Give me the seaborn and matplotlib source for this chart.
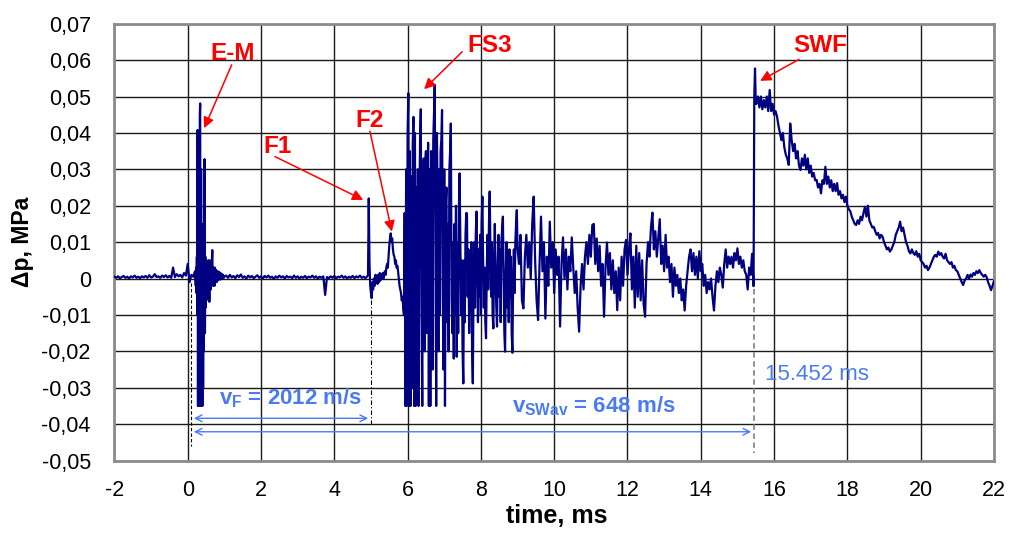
import numpy as np
import pandas as pd
import matplotlib
matplotlib.use("Agg")
import matplotlib.pyplot as plt
import seaborn as sns

# ---------------- data ----------------
# pressure trace, stored as segments: (t_start, t_end, values)
pre_vals = [0.0005, 0.0002, 0.0006, 0.0001, 0.0004, 0.0007, 0.0002, 0.0005, 0.0000, 0.0006,
            0.0003, 0.0008, 0.0002, 0.0005, 0.0001, 0.0006, 0.0003, 0.0007, 0.0002, 0.0009,
            0.0003, 0.0005, 0.0012, 0.0004, 0.0006, 0.0002, 0.0008, 0.0004, 0.0009, 0.0003,
            0.0007, 0.0002, 0.0030, 0.0004, 0.0012, 0.0006, 0.0010, 0.0003, 0.0015, 0.0008,
            0.0040, -0.0010, 0.0010, 0.0005, 0.0020]
em_vals = [-0.002, 0.003, -0.004, 0.006, -0.010, 0.0408, -0.035, 0.040, -0.035, 0.020,
           -0.035, 0.045, 0.0481, -0.035, 0.030, 0.0298, -0.035, 0.015, -0.035, 0.010,
           -0.030, 0.005, -0.020, 0.020, 0.0328, -0.015, 0.006, -0.008, 0.005, -0.004,
           0.003, -0.005, 0.004, -0.003, 0.005, -0.006, 0.002, -0.0064, 0.005, -0.002,
           0.003, -0.003, 0.004, -0.001, 0.005, 0.0078, 0.001, -0.002, 0.003, -0.001,
           0.002, -0.002, 0.003, -0.001, 0.0025, -0.0005, 0.002, -0.001, 0.0015, 0.000,
           0.002, -0.0005, 0.0015, 0.0003, 0.0018, 0.0002, 0.0012, -0.0003, 0.0015, 0.0004,
           0.001, 0.0002, 0.0012, 0.0003, 0.0009, 0.0001, 0.0008, 0.0003, 0.0006]
quiet_vals = [0.0008, 0.0002, 0.0010, 0.0003, 0.0007, 0.0001, 0.0009, 0.0004, 0.0011, 0.0002,
              0.0006, 0.0000, 0.0008, 0.0003, 0.0007, 0.0001, 0.0005, 0.0009, 0.0002, 0.0006,
              0.0000, 0.0007, 0.0003, 0.0008, 0.0002, 0.0005, -0.0001, 0.0006, 0.0002, 0.0008,
              0.0003, 0.0006, 0.0000, 0.0007, 0.0003, 0.0005, 0.0001, 0.0008, 0.0002, 0.0006,
              0.0000, 0.0005, 0.0002, 0.0007, 0.0001, 0.0005, 0.0003, 0.0008, 0.0002, 0.0006,
              0.0000, 0.0005, 0.0002, 0.0006, -0.0045, 0.0004, 0.0001, 0.0006, 0.0002, 0.0007,
              0.0001, 0.0005, 0.0003, 0.0008, 0.0002, 0.0006, 0.0000, 0.0005, 0.0002, 0.0007,
              0.0001, 0.0006, 0.0003, 0.0008, 0.0002, 0.0005, 0.0001, 0.0006]
f_vals = [0.001, 0.022, 0.004, -0.002, -0.004, -0.0054, -0.001, -0.003, 0.000, -0.002,
          0.001, -0.001, 0.0008, -0.0015, 0.001, -0.001, 0.0015, -0.0005, 0.001, 0.000,
          0.0015, 0.000, 0.0012, 0.002, 0.001, 0.003, 0.004, 0.003, 0.006, 0.009,
          0.011, 0.0124, 0.010, 0.011, 0.008, 0.0065, 0.006, 0.004, 0.005, 0.003,
          0.0035, 0.002, 0.000, -0.002, -0.003, -0.004, -0.006, -0.005, -0.008]
fs3_vals = [-0.010, 0.018, -0.035, 0.030, -0.035, 0.040, 0.0509, -0.035, 0.035, -0.035,
            0.028, -0.030, 0.037, 0.0444, -0.035, 0.040, -0.035, 0.025, -0.020, 0.030,
            -0.035, 0.020, 0.038, 0.0465, -0.010, -0.035, 0.025, 0.033, -0.020, 0.030,
            0.035, -0.015, 0.025, 0.0373, -0.035, 0.030, -0.035, 0.035, 0.020, -0.025,
            0.038, 0.045, 0.0532, 0.010, -0.035, 0.040, 0.020, -0.020, 0.030, -0.010,
            0.035, 0.038, 0.0463, -0.005, -0.025, 0.030, -0.035, 0.020, 0.025, -0.012,
            0.015, -0.020, 0.030, 0.035, 0.0426, -0.005, -0.015, 0.010, -0.022, 0.015,
            -0.010, 0.020, -0.0215, 0.010, -0.015, 0.020, 0.0289, 0.010, -0.010, 0.005,
            -0.020, -0.0288, 0.005, -0.012, 0.012, 0.018]
mid1_vals = [0.0179, -0.005, 0.008, -0.015, 0.002, -0.010, 0.010, -0.020, -0.0288, 0.000,
             0.010, -0.008, 0.012, 0.0184, 0.005, -0.012, 0.008, -0.005, 0.012, -0.010,
             0.015, 0.0225, 0.005, -0.008, 0.003, -0.012, -0.0164, 0.002, 0.012, -0.003,
             0.015, 0.0239, 0.008, -0.005, 0.010, -0.010, -0.0137, 0.005, 0.015, 0.002,
             -0.008, -0.0132, 0.004, 0.012, -0.005, 0.008, -0.012, 0.010, 0.014, 0.017,
             0.000, -0.015, -0.0201, 0.002, 0.010, -0.008, 0.005, -0.012, 0.008, -0.005,
             0.006, -0.015, -0.0204, 0.000, 0.008, -0.004, 0.010, 0.015, 0.0188, 0.008]
mid2_vals = [0.004, 0.012, -0.006, -0.0082, 0.006, 0.012, 0.003, 0.010, 0.000, 0.015,
             0.0225, 0.005, -0.006, -0.0114, 0.004, 0.017, 0.002, 0.010, -0.011, 0.006,
             -0.002, 0.0156, 0.003, 0.010, -0.004, 0.008, 0.001, 0.006, -0.0132, 0.004,
             0.0113, 0.000, 0.008, -0.003, 0.006, 0.002, 0.0113, 0.003, -0.004, 0.002,
             -0.008, -0.0146, -0.002, 0.004, -0.003, 0.006, 0.010, 0.004, 0.012, 0.006,
             0.0147, 0.015, 0.004, 0.011, 0.002, 0.009, -0.002, 0.004, -0.0105, 0.003,
             0.0099, 0.001, 0.007, -0.003, 0.005, -0.004, 0.002, -0.0087, 0.003, -0.006,
             0.006, -0.002, 0.008, 0.0106, 0.001,
             0.008, 0.0124, -0.003, 0.006, -0.008, 0.009, -0.005, 0.007, -0.006, 0.005,
             -0.007, -0.0105, 0.004, 0.010, 0.006, 0.014, 0.0181, 0.008, 0.013, 0.006,
             0.011, 0.0163, 0.004, 0.009, 0.002, 0.012, 0.003, 0.006, -0.001, 0.004,
             -0.005, 0.003, -0.002, 0.001, -0.004, 0.000, -0.006, -0.003, -0.0088, -0.002,
             0.002, 0.006, 0.008, 0.002, 0.007, 0.001, 0.006, 0.000, 0.0075, 0.002,
             0.004, -0.002, 0.001, -0.004, -0.001, -0.003, 0.000, -0.005, -0.0088, -0.002,
             0.002, -0.001, 0.003, 0.001, -0.0025, 0.004, 0.008, 0.003, 0.006, 0.004,
             0.006, 0.003, 0.007, 0.005, 0.0083, 0.004, 0.006, 0.003, 0.005, 0.002,
             0.001, -0.003, 0.003, 0.001, 0.0068, -0.0021]
swf_vals = [0.050, 0.0577, 0.048]
decay_vals = [0.048, 0.050, 0.047, 0.050, 0.0465, 0.049, 0.047, 0.050, 0.046, 0.0518,
              0.046, 0.048, 0.045, 0.046, 0.0445, 0.042, 0.040, 0.038, 0.040, 0.036,
              0.034, 0.033, 0.0312, 0.0426, 0.038, 0.035, 0.037, 0.033, 0.035, 0.031,
              0.0298, 0.033, 0.031, 0.034, 0.030, 0.033, 0.029, 0.031, 0.028, 0.029,
              0.027, 0.0271, 0.025, 0.026, 0.0234, 0.027, 0.026, 0.0307, 0.026, 0.028,
              0.025, 0.027, 0.024, 0.026, 0.024, 0.0262, 0.023, 0.024, 0.022, 0.023,
              0.021, 0.0225, 0.020, 0.019, 0.0185, 0.017, 0.016, 0.015, 0.0147, 0.016,
              0.015, 0.017, 0.016, 0.018, 0.0197, 0.017, 0.020, 0.016, 0.015, 0.014,
              0.0142, 0.013, 0.012, 0.0125, 0.011, 0.012, 0.0115, 0.010, 0.009, 0.008,
              0.0085, 0.0074, 0.008, 0.009, 0.010, 0.012, 0.013, 0.014, 0.0156, 0.013,
              0.014, 0.012, 0.010, 0.009, 0.0075, 0.0069, 0.008, 0.007, 0.0065, 0.0075,
              0.006, 0.0068, 0.005, 0.0045, 0.004, 0.003, 0.0035, 0.0023, 0.003, 0.004,
              0.005, 0.006, 0.0065, 0.006, 0.0074, 0.0065, 0.007, 0.006, 0.0055, 0.0068,
              0.005, 0.0045, 0.004, 0.0045, 0.003, 0.0035, 0.0023, 0.002, 0.001, 0.000,
              -0.001, -0.0018, -0.0005, 0.000, 0.001, 0.000, 0.0011, 0.0005, 0.0015, 0.001,
              0.002, 0.0015, 0.0023, 0.0015, 0.001, 0.0005, 0.001, 0.0004, -0.001, -0.002,
              -0.0032, -0.002, -0.0007]

segments = [(-2.00, 0.20, pre_vals), (0.22, 1.00, em_vals), (1.05, 4.90, quiet_vals),
            (4.92, 5.88, f_vals), (5.90, 7.60, fs3_vals), (7.62, 9.00, mid1_vals),
            (9.04, 15.44, mid2_vals), (15.46, 15.50, swf_vals), (15.52, 22.00, decay_vals)]

x_ticks = [-2, 0, 2, 4, 6, 8, 10, 12, 14, 16, 18, 20, 22]
x_tick_labels = ["-2", "0", "2", "4", "6", "8", "10", "12", "14", "16", "18", "20", "22"]
y_ticks = [-0.05, -0.04, -0.03, -0.02, -0.01, 0.0, 0.01, 0.02, 0.03, 0.04, 0.05, 0.06, 0.07]
y_tick_labels = ["-0,05", "-0,04", "-0,03", "-0,02", "-0,01", "0", "0,01", "0,02",
                 "0,03", "0,04", "0,05", "0,06", "0,07"]

t_fire = 0.09        # ms, start of fire
t_f1 = 5.0           # ms, F1 arrival
t_swf = 15.452       # ms, shock wave front arrival

# red labels: (text, label position, arrow tail, arrow head)
red_labels = [("E-M", (1.22, 0.0619), (1.20, 0.0587), (0.45, 0.0413)),
              ("F1", (2.46, 0.0362), (2.38, 0.0335), (4.79, 0.0216)),
              ("F2", (4.97, 0.0434), (4.97, 0.0405), (5.57, 0.0129)),
              ("FS3", (8.24, 0.0641), (7.49, 0.0623), (6.45, 0.0520)),
              ("SWF", (17.27, 0.0641), (16.68, 0.0602), (15.62, 0.0543))]

# ---------------- build dataframe ----------------
tt, pp = [], []
for t0, t1, vals in segments:
    tt.extend(np.linspace(t0, t1, len(vals)))
    pp.extend(vals)
df = pd.DataFrame({"time": tt, "dp": pp})

# ---------------- plot ----------------
sns.set_theme(style="white")
plt.rcParams['font.family'] = ['Liberation Sans', 'DejaVu Sans']
plt.rcParams['mathtext.fontset'] = 'custom'
plt.rcParams['mathtext.rm'] = 'Liberation Sans'
plt.rcParams['mathtext.bf'] = 'Liberation Sans:bold'
plt.rcParams['axes.unicode_minus'] = False
plt.rcParams['text.color'] = 'black'
plt.rcParams['axes.labelcolor'] = 'black'

fig = plt.figure(figsize=(10.09, 5.34), dpi=100)
ax = fig.add_axes([0.1134, 0.1376, 0.8717, 0.8180])

ax.set_xlim(-2, 22)
ax.set_ylim(-0.05, 0.07)
ax.set_xticks(x_ticks)
ax.set_xticklabels(x_tick_labels)
ax.set_yticks(y_ticks)
ax.set_yticklabels(y_tick_labels)
ax.grid(True, color='#1a1a1a', lw=1.0)
ax.set_axisbelow(True)
for s in ax.spines.values():
    s.set_color('#8c8c8c')
    s.set_linewidth(2)
ax.tick_params(axis='both', length=0, labelsize=15.5, colors='black')
ax.tick_params(axis='y', pad=17)
ax.tick_params(axis='x', pad=14)

sns.lineplot(data=df, x="time", y="dp", ax=ax, color='#000080', lw=1.6,
             estimator=None, sort=False, zorder=3)

ax.set_xlabel("time, ms", fontsize=18, fontweight='bold', color='black')
ax.set_ylabel("Δp, MPa", fontsize=16.5, fontweight='bold', color='black')
ax.xaxis.set_label_coords(0.503, -0.10)
ax.yaxis.set_label_coords(-0.092, 0.5)

# dashed markers
ax.plot([t_fire, t_fire], [-0.0013, -0.046], color='black', lw=0.8, ls=(0, (3, 2)), zorder=4)
ax.plot([t_f1, t_f1], [-0.006, -0.040], color='black', lw=0.8, ls=(0, (4, 2, 1, 2)), zorder=4)
ax.plot([t_swf, t_swf], [-0.003, -0.048], color='#888888', lw=1.3, ls=(0, (3, 2)), zorder=4)

blue = '#4A7BF0'
ax.annotate("", xy=(t_f1, -0.0384), xytext=(t_fire, -0.0384),
            arrowprops=dict(arrowstyle='<->', color=blue, lw=1.0, mutation_scale=12), zorder=5)
ax.annotate("", xy=(t_swf, -0.0421), xytext=(t_fire, -0.0421),
            arrowprops=dict(arrowstyle='<->', color=blue, lw=1.0, mutation_scale=12), zorder=5)
ax.text(2.80, -0.0347, r"v$_\mathbf{F}$ = 2012 m/s", color=blue, fontsize=16,
        fontweight='bold', ha='center', va='baseline', zorder=6)
ax.text(11.09, -0.0369, r"v$_\mathbf{SWav}$ = 648 m/s", color=blue, fontsize=16,
        fontweight='bold', ha='center', va='baseline', zorder=6)
ax.text(17.17, -0.0265, "15.452 ms", color=blue, fontsize=16, ha='center', va='center', zorder=6)

for label, pos, tail, head in red_labels:
    ax.text(pos[0], pos[1], label, color='#ff0000', fontsize=17.5, fontweight='bold',
            ha='center', va='center', zorder=6)
    ax.annotate("", xy=head, xytext=tail,
                arrowprops=dict(arrowstyle='-|>', color='#ff0000', lw=1.1,
                                mutation_scale=16, shrinkA=0, shrinkB=0), zorder=6)

fig.savefig("out.png", dpi=100)
